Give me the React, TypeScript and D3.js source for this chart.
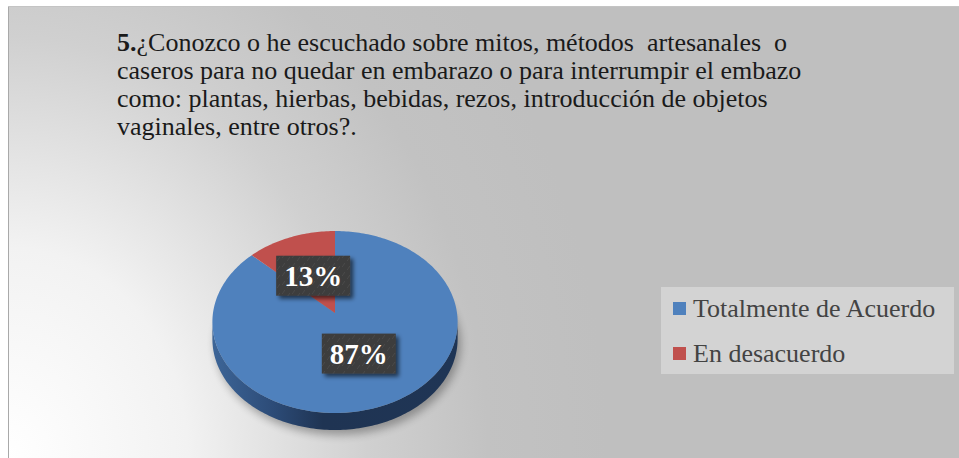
import React from "react";
import * as d3 from "d3";

// chart values
const categories = ["Totalmente de Acuerdo", "En desacuerdo"];
const values = [87, 13];
const pctLabels = ["87%", "13%"];
const sliceColors = ["#4f81bd", "#c0504d"];
const titleNumber = "5.";
const titleLines = [
  "¿Conozco o he escuchado sobre mitos, métodos  artesanales  o",
  "caseros para no quedar en embarazo o para interrumpir el embazo",
  "como: plantas, hierbas, bebidas, rezos, introducción de objetos",
  "vaginales, entre otros?.",
];

const width = 959;
const height = 458;

// 3d pie geometry (perspective ellipse)
const cx = 335;
const cy = 313;
const rx = 122;
const ky = 90.1;
const persp = 0.099;
const depth = 17;

const projectUV = (u: number, v: number): [number, number] => {
  const d = 1 - persp * v;
  return [cx + (rx * u) / d, cy + (ky * v) / d];
};
const project = (a: number, r = 1): [number, number] =>
  projectUV(r * Math.sin(a), -r * Math.cos(a));

const arcPoints = (a0: number, a1: number) => {
  const n = Math.max(2, Math.ceil((a1 - a0) / 0.02));
  return d3.range(n + 1).map((i) => project(a0 + ((a1 - a0) * i) / n));
};

const App = () => {
  const pie = d3
    .pie<number>()
    .sort(null)
    .value((d) => d);
  const slices = pie(values);
  const line = d3.line();
  const labelArc = d3.arc<d3.PieArcDatum<number>>().innerRadius(0.47).outerRadius(0.47);

  // visible front range of the side wall
  const frontStart = Math.acos(-persp);
  const frontEnd = 2 * Math.PI - frontStart;

  return (
    <svg
      width={width}
      height={height}
      style={{ position: "absolute", left: 0, top: 0, background: "#fff" }}
    >
      <defs>
        <radialGradient
          id="bg"
          gradientUnits="userSpaceOnUse"
          cx={8}
          cy={458}
          r={600}
          gradientTransform="translate(8 458) scale(1 1.17) translate(-8 -458)"
        >
          <stop offset="0" stopColor="#ffffff" />
          <stop offset="0.3" stopColor="#f2f2f2" />
          <stop offset="0.6" stopColor="#d0d0d0" />
          <stop offset="0.8" stopColor="#c2c2c2" />
          <stop offset="1" stopColor="#bfbfbf" />
        </radialGradient>
        <linearGradient id="side0" gradientUnits="userSpaceOnUse" x1={cx - rx} x2={cx + rx} y1={0} y2={0}>
          <stop offset="0" stopColor="#3d6597" />
          <stop offset="0.25" stopColor="#2c4b77" />
          <stop offset="0.45" stopColor="#1f3453" />
          <stop offset="1" stopColor="#1f3555" />
        </linearGradient>
        <linearGradient id="side1" gradientUnits="userSpaceOnUse" x1={cx - rx} x2={cx + rx} y1={0} y2={0}>
          <stop offset="0" stopColor="#8c3331" />
          <stop offset="1" stopColor="#5e2120" />
        </linearGradient>
        <filter id="pieShadow" x="-20%" y="-20%" width="140%" height="150%">
          <feGaussianBlur stdDeviation="4" />
        </filter>
        <filter id="boxShadow" x="-20%" y="-20%" width="150%" height="160%">
          <feGaussianBlur in="SourceAlpha" stdDeviation="2" />
          <feOffset dx="3" dy="3" result="b" />
          <feComponentTransfer>
            <feFuncA type="linear" slope="0.6" />
          </feComponentTransfer>
          <feMerge>
            <feMergeNode />
            <feMergeNode in="SourceGraphic" />
          </feMerge>
        </filter>
        <pattern id="hatch" width="10" height="9" patternUnits="userSpaceOnUse">
          <rect width="10" height="9" fill="#3c3c3c" />
          <path d="M2,6 L5,2 M7,9 L10,5" stroke="#4a4a4a" strokeWidth="1" />
        </pattern>
      </defs>

      {/* chart area */}
      <rect x={8} y={6} width={width - 8} height={height - 6} fill="url(#bg)" />
      <line x1={8.5} y1={6} x2={8.5} y2={height} stroke="#a9a9a9" />
      <line x1={8} y1={6.5} x2={width} y2={6.5} stroke="#c4c4c4" />

      {/* title */}
      <g fontFamily="'Liberation Serif', serif" fontSize={26} fill="#1a1a1a">
        {titleLines.map((t, i) => (
          <text key={i} x={117} y={51 + i * 28} xmlSpace="preserve">
            {i === 0 && <tspan fontWeight="bold">{titleNumber}</tspan>}
            {t}
          </text>
        ))}
      </g>

      {/* shadow */}
      <path
        d={line([...arcPoints(0, 2 * Math.PI)].map(([x, y]) => [x + 3, y + depth + 5]) as [number, number][])!}
        fill="#000"
        opacity={0.3}
        filter="url(#pieShadow)"
      />

      {/* side wall */}
      {slices.map((s, i) => {
        const a0 = Math.max(s.startAngle, frontStart);
        const a1 = Math.min(s.endAngle, frontEnd);
        if (a0 >= a1) return null;
        const top = arcPoints(a0, a1);
        const bottom = top.map(([x, y]) => [x, y + depth] as [number, number]).reverse();
        return <path key={"side" + i} d={line([...top, ...bottom])! + "Z"} fill={`url(#side${i})`} />;
      })}

      {/* top faces */}
      {slices.map((s, i) => (
        <path
          key={"top" + i}
          d={line([[cx, cy], ...arcPoints(s.startAngle, s.endAngle)])! + "Z"}
          fill={sliceColors[i]}
        />
      ))}

      {/* data labels */}
      {slices.map((s, i) => {
        const [u, v] = labelArc.centroid(s);
        const [x, y] = projectUV(u, v);
        return (
          <g key={"lab" + i}>
            <rect x={x - 37} y={y - 20} width={74} height={40} fill="url(#hatch)" filter="url(#boxShadow)" />
            <text
              x={x}
              y={y + 10}
              textAnchor="middle"
              fontFamily="'Liberation Serif', serif"
              fontWeight="bold"
              fontSize={29}
              fill="#fff"
            >
              {pctLabels[i]}
            </text>
          </g>
        );
      })}

      {/* legend */}
      <rect x={661} y={287} width={293} height={87} fill="#d3d3d3" />
      {categories.map((c, i) => (
        <g key={"leg" + i} transform={`translate(673, ${302 + i * 45})`}>
          <rect width={13} height={13} fill={sliceColors[i]} />
          <text x={20} y={15} fontFamily="'Liberation Serif', serif" fontSize={26} fill="#434343">
            {c}
          </text>
        </g>
      ))}
    </svg>
  );
};

export default App;
